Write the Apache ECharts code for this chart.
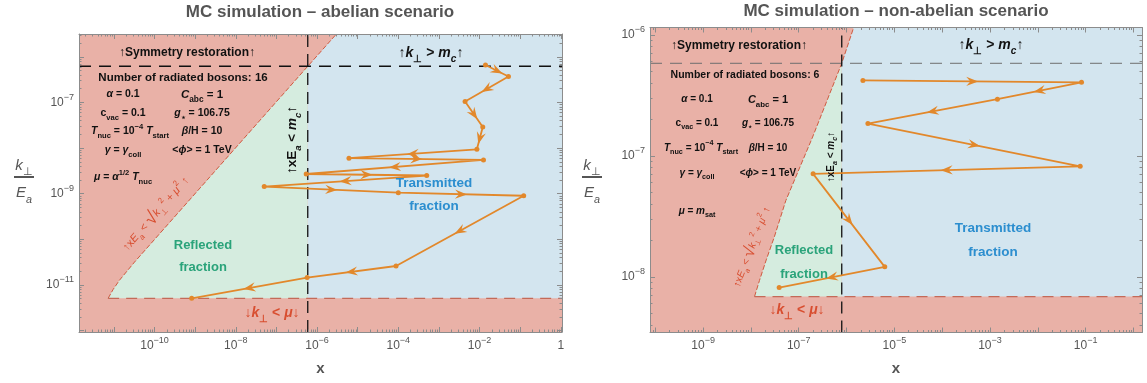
<!DOCTYPE html>
<html><head><meta charset="utf-8">
<script src="https://cdn.jsdelivr.net/npm/echarts@6/dist/echarts.min.js"></script>
<style>html,body{margin:0;padding:0;background:#fff}#c{width:1147px;height:383px}</style>
</head><body><div id="c"></div>
<script>
// ---------------- data: abelian scenario (left) ----------------
const abXRange = [1.38e-12, 1.07];
const abYRange = [9.3e-13, 3.16e-6];
const abXLabels = [1e-10, 1e-8, 1e-6, 1e-4, 1e-2, 1];
const abYLabels = [1e-11, 1e-9, 1e-7];
const abPathX = [1.4e-2, 5.15e-2, 4.4e-3, 1.2e-2, 8.6e-3, 6.1e-6, 1.25e-2, 5.4e-7, 5.0e-4, 5.0e-8, 1.0e-4, 1.22e-1, 8.8e-5, 5.7e-7, 8.2e-10];
const abPathY = [6.6e-7, 3.7e-7, 1.05e-7, 2.9e-8, 9.4e-9, 6.0e-9, 5.5e-9, 2.7e-9, 2.5e-9, 1.43e-9, 1.05e-9, 9.0e-10, 2.6e-11, 1.45e-11, 5.1e-12];
const abMc = 6.2e-7;   // k_perp = m_c
const abXc = 5.9e-7;   // x E_a = m_c
const abMu = 5.1e-12;  // k_perp = mu
const abEdgeX = [7.2e-12, 9.5e-12, 1.36e-11, 3.2e-11, 5.9e-7, 3.0e-6];
const abEdgeY = [5.1e-12, 7.9e-12, 1.26e-11, 3.16e-11, 6.2e-7, 3.16e-6];

// ---------------- data: non-abelian scenario (right) ----------------
const naXRange = [7.76e-11, 1.51];
const naYRange = [3.47e-9, 1.15e-6];
const naXLabels = [1e-9, 1e-7, 1e-5, 1e-3, 1e-1];
const naYLabels = [1e-8, 1e-7, 1e-6];
const naPathX = [2.2e-6, 8.2e-2, 1.43e-3, 2.8e-6, 7.7e-2, 2.0e-7, 6.3e-6, 3.9e-8];
const naPathY = [4.2e-7, 4.05e-7, 2.94e-7, 1.85e-7, 8.2e-8, 7.1e-8, 1.21e-8, 8.15e-9];
const naMc = 5.82e-7;
const naXc = 7.94e-7;
const naMu = 6.87e-9;
const naEdgeX = [1.19e-8, 1.51e-8, 2.09e-8, 3.09e-8, 5.37e-8, 1.95e-7, 7.94e-7, 1.41e-6];
const naEdgeY = [6.87e-9, 9.33e-9, 1.38e-8, 2.14e-8, 4.27e-8, 1.43e-7, 5.82e-7, 1.15e-6];

// ---------------- styles ----------------
const F = "'Liberation Sans', Arial, sans-serif";
const ORANGE = '#e2882b';
const RED_BG = '#e9b1a7', GREEN_BG = '#d5ecdf', BLUE_BG = '#d3e5ef';
const RED_TXT = '#d84e30', GREEN_TXT = '#2aa37a', BLUE_TXT = '#2c8ecf';
const GRAY = '#555555', FRAME = '#8c8c8c';
const L = Math.log10;

const chart = echarts.init(document.getElementById('c'), null, {renderer: 'canvas'});

const grids = [
  {left: 79, top: 34, width: 483, height: 298, show: true, backgroundColor: RED_BG, borderWidth: 0},
  {left: 650, top: 27.5, width: 492, height: 305, show: true, backgroundColor: RED_BG, borderWidth: 0}
];

const xAxes = [], yAxes = [], series = [];

function majors(r) { const a = []; for (let n = Math.ceil(r[0]); n <= Math.floor(r[1]); n++) a.push(n); return a; }
function minors(r) {
  const a = [];
  for (let n = Math.floor(r[0]) - 1; n <= Math.ceil(r[1]); n++)
    for (let k = 2; k <= 9; k++) { const v = n + L(k); if (v > r[0] && v < r[1]) a.push(v); }
  return a;
}
const labelRich = {
  b: {fontSize: 12, color: GRAY, fontFamily: F, lineHeight: 19, verticalAlign: 'middle'},
  s: {fontSize: 9, color: GRAY, fontFamily: F, lineHeight: 19, verticalAlign: 'top'}
};
function fmt(v) { const n = Math.round(v); return n === 0 ? '{b|1}' : '{b|10}{s|\u2212' + Math.abs(n) + '}'; }

function axis(g, r, extra) {
  return Object.assign({
    type: 'value', gridIndex: g, min: r[0], max: r[1], z: 10,
    splitLine: {show: false}, axisLine: {show: false, onZero: false},
    axisLabel: {show: false}, axisTick: {show: false}
  }, extra);
}

function panel(g, P) {
  const xr = P.xRange.map(L), yr = P.yRange.map(L);
  const xi = xAxes.length, yi = yAxes.length;
  const line = {show: true, onZero: false, lineStyle: {color: FRAME, width: 1}};
  const tickMaj = (vals) => ({show: true, inside: true, length: 5, customValues: vals, lineStyle: {color: FRAME, width: 1}});
  const tickMin = (vals) => ({show: true, inside: true, length: 2.5, customValues: vals, lineStyle: {color: FRAME, width: 1}});
  xAxes.push(axis(g, xr, {position: 'bottom', axisLine: line, axisTick: tickMaj(majors(xr)),
    axisLabel: {show: true, customValues: P.xLabels.map(L), formatter: fmt, rich: labelRich, margin: 4},
    name: 'x', nameLocation: 'middle', nameGap: 29,
    nameTextStyle: {fontSize: 15, fontWeight: 'bold', color: GRAY, fontFamily: F}}));
  xAxes.push(axis(g, xr, {position: 'bottom', axisTick: tickMin(minors(xr))}));
  xAxes.push(axis(g, xr, {position: 'top', axisLine: line, axisTick: tickMaj(majors(xr))}));
  xAxes.push(axis(g, xr, {position: 'top', axisTick: tickMin(minors(xr))}));
  yAxes.push(axis(g, yr, {position: 'left', axisLine: line, axisTick: tickMaj(majors(yr)),
    axisLabel: {show: true, customValues: P.yLabels.map(L), formatter: fmt, rich: labelRich, margin: 5}}));
  yAxes.push(axis(g, yr, {position: 'left', axisTick: tickMin(minors(yr))}));
  yAxes.push(axis(g, yr, {position: 'right', axisLine: line, axisTick: tickMaj(majors(yr))}));
  yAxes.push(axis(g, yr, {position: 'right', axisTick: tickMin(minors(yr))}));

  const on = {xAxisIndex: xi, yAxisIndex: yi};
  const edge = P.edgeX.map((x, i) => [L(x), L(P.edgeY[i])]);
  const ci = P.edgeY.indexOf(P.mc);
  const greenPts = edge.slice(0, ci + 1).concat([[L(P.xc), L(P.mu)]]);
  const bluePts = [[L(P.xc), L(P.mu)], [xr[1], L(P.mu)], [xr[1], yr[1]], edge[edge.length - 1], edge[ci]];
  const poly = (pts, fill) => Object.assign({
    type: 'custom', silent: true, z: 1, data: pts, encode: {x: 0, y: 1},
    renderItem: (params, api) => params.dataIndex !== 0 ? null : {
      type: 'polygon', shape: {points: pts.map(p => api.coord(p))}, style: {fill: fill}
    }
  }, on);
  series.push(poly(greenPts, GREEN_BG), poly(bluePts, BLUE_BG));

  const ln = (data, color, width, dash, z) => Object.assign({
    type: 'line', data: data, symbol: 'none', silent: true, z: z || 3, animation: false,
    lineStyle: {color: color, width: width, type: dash}
  }, on);
  series.push(ln(edge, '#cf5a40', 1, [5, 2], 2));
  series.push(ln([[xr[0], L(P.mc)], [xr[1], L(P.mc)]], P.topColor, P.topWidth, [12, 8]));
  series.push(ln([[L(P.xc), yr[0]], [L(P.xc), yr[1]]], '#111', 1.3, [12, 7]));
  series.push(ln([[edge[0][0], L(P.mu)], [xr[1], L(P.mu)]], '#c46a58', 1.3, [11, 7]));

  const path = P.pathX.map((x, i) => [L(x), L(P.pathY[i])]);
  series.push(Object.assign({
    type: 'line', data: path, symbol: 'circle', symbolSize: 5, silent: true, z: 5,
    itemStyle: {color: ORANGE}, lineStyle: {color: ORANGE, width: 1.8}
  }, on));
  const segs = [];
  for (let i = 0; i < path.length - 1; i++) segs.push([path[i][0], path[i][1], path[i + 1][0], path[i + 1][1]]);
  series.push(Object.assign({
    type: 'custom', silent: true, z: 6, data: segs, encode: {x: [0, 2], y: [1, 3]},
    renderItem: (params, api) => {
      const p1 = api.coord([api.value(0), api.value(1)]);
      const p2 = api.coord([api.value(2), api.value(3)]);
      const mx = (p1[0] + p2[0]) / 2, my = (p1[1] + p2[1]) / 2;
      const a = Math.atan2(p2[1] - p1[1], p2[0] - p1[0]);
      const c = Math.cos(a), s = Math.sin(a), Lh = 12, W = 4.6;
      const tip = [mx + c * Lh / 2, my + s * Lh / 2];
      const bk = [mx - c * Lh / 2, my - s * Lh / 2];
      const notch = [mx - c * Lh * 0.15, my - s * Lh * 0.15];
      return {type: 'polygon', shape: {points: [tip, [bk[0] - s * W, bk[1] + c * W], notch, [bk[0] + s * W, bk[1] - c * W]]},
        style: {fill: ORANGE}};
    }
  }, on));
}

panel(0, {xRange: abXRange, yRange: abYRange, xLabels: abXLabels, yLabels: abYLabels, pathX: abPathX, pathY: abPathY,
  mc: abMc, xc: abXc, mu: abMu, edgeX: abEdgeX, edgeY: abEdgeY, topColor: '#111', topWidth: 1.3});
panel(1, {xRange: naXRange, yRange: naYRange, xLabels: naXLabels, yLabels: naYLabels, pathX: naPathX, pathY: naPathY,
  mc: naMc, xc: naXc, mu: naMu, edgeX: naEdgeX, edgeY: naEdgeY, topColor: '#6e6e6e', topWidth: 1});

// ---------------- annotations ----------------
function R(size, color, weight) {
  const lh = Math.round(size * 1.6), sm = Math.round(size * 0.72 * 10) / 10;
  const base = {fontSize: size, fontWeight: weight, fontFamily: F, fill: color, lineHeight: lh, verticalAlign: 'middle'};
  return {
    n: base,
    i: Object.assign({}, base, {fontStyle: 'italic'}),
    sub: Object.assign({}, base, {fontSize: sm, verticalAlign: 'bottom'}),
    isub: Object.assign({}, base, {fontSize: sm, fontStyle: 'italic', verticalAlign: 'bottom'}),
    sup: Object.assign({}, base, {fontSize: sm, verticalAlign: 'top'}),
    rad: Object.assign({}, base, {fontSize: size * 1.7, fontWeight: 'normal'})
  };
}
function T(x, y, text, size, color, weight, rot) {
  weight = weight || 'bold';
  return {type: 'text', x: x, y: y, rotation: rot || 0, z: 100, silent: true,
    style: {text: text, rich: R(size, color, weight), align: 'center', verticalAlign: 'middle',
      fill: color, fontSize: size, fontWeight: weight, fontFamily: F}};
}
const K = '#111';
const params = (cx1, cx2, ys, size, tnucDx) => [
  T(cx1, ys[0], '{i|\u03b1}{n| = 0.1}', size, K),
  T(cx2, ys[0], '{i|C}{sub|abc}{n| = 1}', size + 1, K),
  T(cx1, ys[1], '{n|c}{sub|vac}{n| = 0.1}', size, K),
  T(cx2, ys[1], '{i|g}{sub|\u22c6}{n| = 106.75}', size, K),
  T(cx1 + tnucDx, ys[2], '{i|T}{sub|nuc}{n| = 10}{sup|\u22124}{n| }{i|T}{sub|start}', size, K),
  T(cx2, ys[2], '{i|\u03b2}{n|/H = 10}', size, K),
  T(cx1, ys[3], '{i|\u03b3}{n| = }{i|\u03b3}{sub|coll}', size, K),
  T(cx2, ys[3], '{n|<}{i|\u03d5}{n|> = 1 TeV}', size, K)
];
const fracName = (cx) => [
  T(cx, 166, '{i|k}{sub|\u22a5}', 15, GRAY, 'normal'),
  {type: 'line', z: 100, silent: true, shape: {x1: cx - 10, y1: 177, x2: cx + 10, y2: 177}, style: {stroke: GRAY, lineWidth: 2}},
  T(cx, 193, '{i|E}{isub|a}', 15, GRAY, 'normal')
];
const radText = '{n|\u2191x}{i|E}{isub|a}{n| < }{rad|\u221a}{i|k}{sub|\u22a5}{sup|2}{n| + }{i|\u03bc}{sup|2}{n| \u2191}';

const graphics = [].concat(
  [T(320, 12, '{n|MC simulation \u2013 abelian scenario}', 17, GRAY),
   T(896, 11, '{n|MC simulation \u2013 non-abelian scenario}', 17, GRAY)],
  fracName(24), fracName(592),
  // left
  [T(187, 53, '{n|\u2191Symmetry restoration\u2191}', 12, K),
   T(431, 53, '{n|\u2191}{i|k}{sub|\u22a5}{n| > }{i|m}{isub|c}{n|\u2191}', 14, K),
   T(183, 78, '{n|Number of radiated bosons: 16}', 11.5, K)],
  params(123, 202, [94.5, 113, 131, 150], 10.5, 7),
  [T(123, 177, '{i|\u03bc}{n| = }{i|\u03b1}{sup|1/2}{n| }{i|T}{sub|nuc}', 10.5, K),
   T(292, 140, '{n|\u2191xE}{isub|a}{n| < }{i|m}{isub|c}{n|\u2191}', 13.5, K, 'bold', Math.PI / 2),
   T(156, 214, radText, 11, RED_TXT, 'normal', 0.85),
   T(203, 245, '{n|Reflected}', 13, GREEN_TXT), T(203, 267.5, '{n|fraction}', 13, GREEN_TXT),
   T(434, 183, '{n|Transmitted}', 13.5, BLUE_TXT), T(434, 206, '{n|fraction}', 13.5, BLUE_TXT),
   T(272, 313, '{n|\u2193}{i|k}{sub|\u22a5}{n| < }{i|\u03bc}{n|\u2193}', 14, RED_TXT)],
  // right
  [T(739, 46, '{n|\u2191Symmetry restoration\u2191}', 12, K),
   T(991, 45, '{n|\u2191}{i|k}{sub|\u22a5}{n| > }{i|m}{isub|c}{n|\u2191}', 14, K),
   T(745, 75, '{n|Number of radiated bosons: 6}', 10.5, K)],
  params(697, 768, [99.5, 123, 148, 173], 10, 4),
  [T(697, 211, '{i|\u03bc}{n| = }{i|m}{sub|sat}', 10, K),
   T(831, 157, '{n|\u2191xE}{isub|a}{n| < }{i|m}{isub|c}{n|\u2191}', 10, K, 'bold', Math.PI / 2),
   T(752, 247, radText, 10, RED_TXT, 'normal', 1.2),
   T(804, 250, '{n|Reflected}', 13, GREEN_TXT), T(804, 274, '{n|fraction}', 13, GREEN_TXT),
   T(993, 228, '{n|Transmitted}', 13.5, BLUE_TXT), T(993, 252, '{n|fraction}', 13.5, BLUE_TXT),
   T(797, 310, '{n|\u2193}{i|k}{sub|\u22a5}{n| < }{i|\u03bc}{n|\u2193}', 14, RED_TXT)]
);

chart.setOption({
  animation: false,
  grid: grids,
  xAxis: xAxes,
  yAxis: yAxes,
  series: series,
  graphic: {elements: graphics}
});
</script></body></html>
